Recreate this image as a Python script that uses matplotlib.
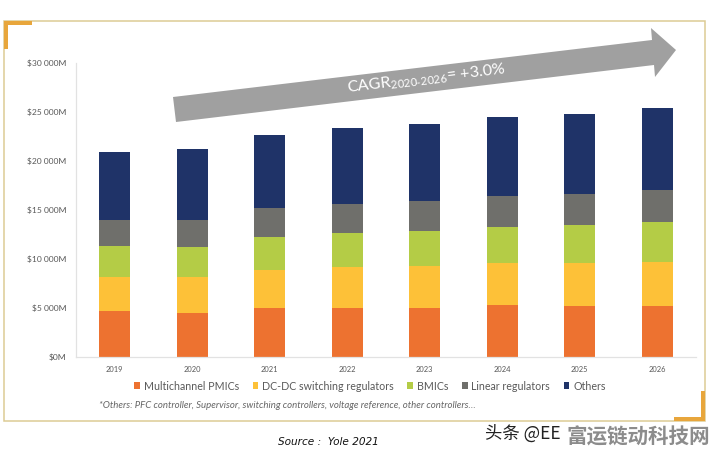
import matplotlib
matplotlib.use("Agg")
import matplotlib.pyplot as plt
from matplotlib.patches import Polygon, Rectangle

plt.rcParams['font.family'] = ['Lato', 'DejaVu Sans']
plt.rcParams['mathtext.default'] = 'regular'

years = ['2019', '2020', '2021', '2022', '2023', '2024', '2025', '2026']
multichannel = [4700, 4500, 5000, 5000, 5000, 5300, 5200, 5200]
dcdc = [3470, 3670, 3880, 4180, 4290, 4290, 4390, 4490]
bmics = [3160, 3060, 3370, 3470, 3570, 3670, 3880, 4080]
linear = [2650, 2760, 2960, 2960, 3060, 3160, 3160, 3270]
others = [6940, 7240, 7450, 7760, 7860, 8060, 8160, 8370]
series_names = ['Multichannel PMICs', 'DC-DC switching regulators', 'BMICs', 'Linear regulators', 'Others']
series_values = [multichannel, dcdc, bmics, linear, others]
colors = ['#ED7230', '#FDC138', '#B4CC46', '#6F6F6B', '#1F3368']
y_ticks = [0, 5000, 10000, 15000, 20000, 25000, 30000]
y_labels = ['$0M', '$5 000M', '$10 000M', '$15 000M', '$20 000M', '$25 000M', '$30 000M']
W, H = 715, 455

fig = plt.figure(figsize=(W / 100, H / 100), dpi=100, facecolor='white')

# Overlay in pixel coordinates for the slide decoration
bg = fig.add_axes([0, 0, 1, 1], zorder=0)
bg.set_xlim(0, W)
bg.set_ylim(H, 0)
bg.axis('off')
bg.add_patch(Rectangle((4, 21), 701, 400, fill=False, ec='#DDCB94', lw=1.1))
bg.add_patch(Polygon([(4, 21), (32, 21), (32, 25), (8, 25), (8, 49), (4, 49)], fc='#E8A63C', ec='none'))
bg.add_patch(Polygon([(705, 391), (705, 421), (674, 421), (674, 417), (701, 417), (701, 391)], fc='#E8A63C', ec='none'))

ax = fig.add_axes([76 / W, 1 - 357 / H, 620 / W, 294 / H], zorder=1)
ax.patch.set_alpha(0)
bottom = [0] * len(years)
for name, vals, c in zip(series_names, series_values, colors):
    ax.bar(years, vals, 0.4, bottom=bottom, color=c, label=name)
    bottom = [b + v for b, v in zip(bottom, vals)]
ax.set_xlim(-0.5, 7.5)
ax.set_ylim(0, 30000)
ax.set_yticks(y_ticks, y_labels)
for s in ['top', 'right']:
    ax.spines[s].set_visible(False)
for s in ['left', 'bottom']:
    ax.spines[s].set_color('#E2E2E2')
    ax.spines[s].set_linewidth(0.9)
ax.tick_params(axis='y', length=0, labelsize=6.1, labelcolor='#595959', pad=7)
ax.tick_params(axis='x', length=0, labelsize=5.4, labelcolor='#595959', pad=6.5)

leg = fig.legend(loc='center', bbox_to_anchor=(370 / W, 1 - 386 / H), ncol=5, frameon=False,
                 fontsize=7.7, labelcolor='#595959', handlelength=0.55, handleheight=0.55,
                 handletextpad=0.35, columnspacing=1.25, borderpad=0)

# Overlay above the bars
top = fig.add_axes([0, 0, 1, 1], zorder=2)
top.set_xlim(0, W)
top.set_ylim(H, 0)
top.axis('off')
top.add_patch(Polygon([(173, 97), (176, 122), (654, 65), (655, 77), (676, 50), (651, 28), (652, 40)],
                      fc='#A0A0A0', ec='none'))
top.text(347, 88, 'CAGR$_{2020\u20112026}$= +3.0%', color='white', fontsize=11.6, rotation=6.8,
         rotation_mode='anchor', ha='left', va='center')
top.text(99, 406, '*Others: PFC controller, Supervisor, switching controllers, voltage reference, other controllers\u2026',
         color='#666666', fontsize=6.9, style='italic', ha='left', va='center')
top.text(278, 442, 'Source :  Yole 2021', color='#111111', fontsize=7.6, style='italic',
         family='DejaVu Sans', ha='left', va='center')
top.text(485, 434, '头条 @EE', color='#222222', fontsize=12.5,
         family=['Noto Sans CJK SC', 'DejaVu Sans'], ha='left', va='center')
top.text(566, 437, '富运链动科技网', color='#8C8C8C', fontsize=14.8, weight='bold',
         family=['Noto Sans CJK SC', 'DejaVu Sans'], ha='left', va='center')

fig.savefig('out.png', dpi=100, facecolor='white')
